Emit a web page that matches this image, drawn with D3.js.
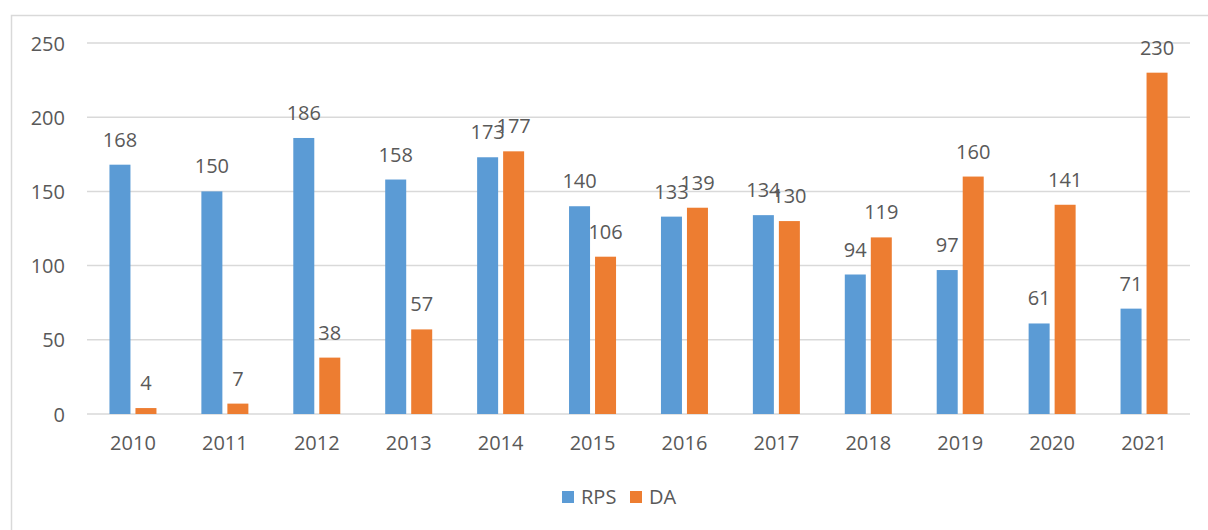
<!DOCTYPE html>
<html>
<head>
<meta charset="utf-8">
<script src="https://cdn.jsdelivr.net/npm/d3@7"></script>
<style>
  body { margin: 0; background: #fff; }
  text { font-family: "Open Sans", sans-serif; fill: #595959; }
</style>
</head>
<body>
<svg id="chart" width="1208" height="530"></svg>
<script>
const years = ["2010","2011","2012","2013","2014","2015","2016","2017","2018","2019","2020","2021"];
const rps = [168,150,186,158,173,140,133,134,94,97,61,71];
const da = [4,7,38,57,177,106,139,130,119,160,141,230];
const yTicks = [0,50,100,150,200,250];
const seriesNames = ["RPS","DA"];
const colors = ["#5B9BD5","#ED7D31"];

const svg = d3.select("#chart");

// outer frame
svg.append("rect")
  .attr("x", 11.5).attr("y", 15.5)
  .attr("width", 1208).attr("height", 600)
  .attr("fill", "none").attr("stroke", "#D9D9D9").attr("stroke-width", 1.5);

const plotL = 87, plotR = 1190, plotT = 43, plotB = 414;

const x = d3.scaleBand().domain(years).range([plotL, plotR]);
const y = d3.scaleLinear().domain([0, 250]).range([plotB, plotT]);

// gridlines
svg.append("g").selectAll("line").data(yTicks).join("line")
  .attr("x1", plotL).attr("x2", plotR)
  .attr("y1", d => y(d)).attr("y2", d => y(d))
  .attr("stroke", "#D9D9D9").attr("stroke-width", 1.5);

// y axis
const yAxis = svg.append("g")
  .attr("transform", `translate(${plotL - 22},0)`)
  .call(d3.axisLeft(y).tickValues(yTicks).tickSize(0).tickPadding(0));
yAxis.select(".domain").remove();
yAxis.selectAll("text").style("font-size", "20px").attr("fill", "#595959").attr("dy", "0.35em");

// x axis
const xAxis = svg.append("g")
  .attr("transform", `translate(0,${plotB})`)
  .call(d3.axisBottom(x).tickSize(0).tickPadding(22));
xAxis.select(".domain").remove();
xAxis.selectAll("text").style("font-size", "20px").attr("fill", "#595959");

const barW = 21, gap = 5;
const series = [rps, da];

series.forEach((vals, s) => {
  const off = s === 0 ? -gap / 2 - barW : gap / 2;
  const g = svg.append("g");
  g.selectAll("rect").data(vals).join("rect")
    .attr("x", (d, i) => x(years[i]) + x.bandwidth() / 2 + off)
    .attr("y", d => y(d))
    .attr("width", barW)
    .attr("height", d => plotB - y(d))
    .attr("fill", colors[s]);
  g.selectAll("text").data(vals).join("text")
    .attr("x", (d, i) => x(years[i]) + x.bandwidth() / 2 + off + barW / 2)
    .attr("y", d => y(d) - 18)
    .attr("text-anchor", "middle")
    .style("font-size", "20px")
    .text(d => d);
});

// legend
const legend = svg.append("g").attr("transform", "translate(562,491)");
const legX = [0, 68];
seriesNames.forEach((n, i) => {
  legend.append("rect").attr("x", legX[i]).attr("y", 0).attr("width", 12).attr("height", 12).attr("fill", colors[i]);
  legend.append("text").attr("x", legX[i] + 19).attr("y", 13).style("font-size", "20px").text(n);
});
</script>
</body>
</html>
